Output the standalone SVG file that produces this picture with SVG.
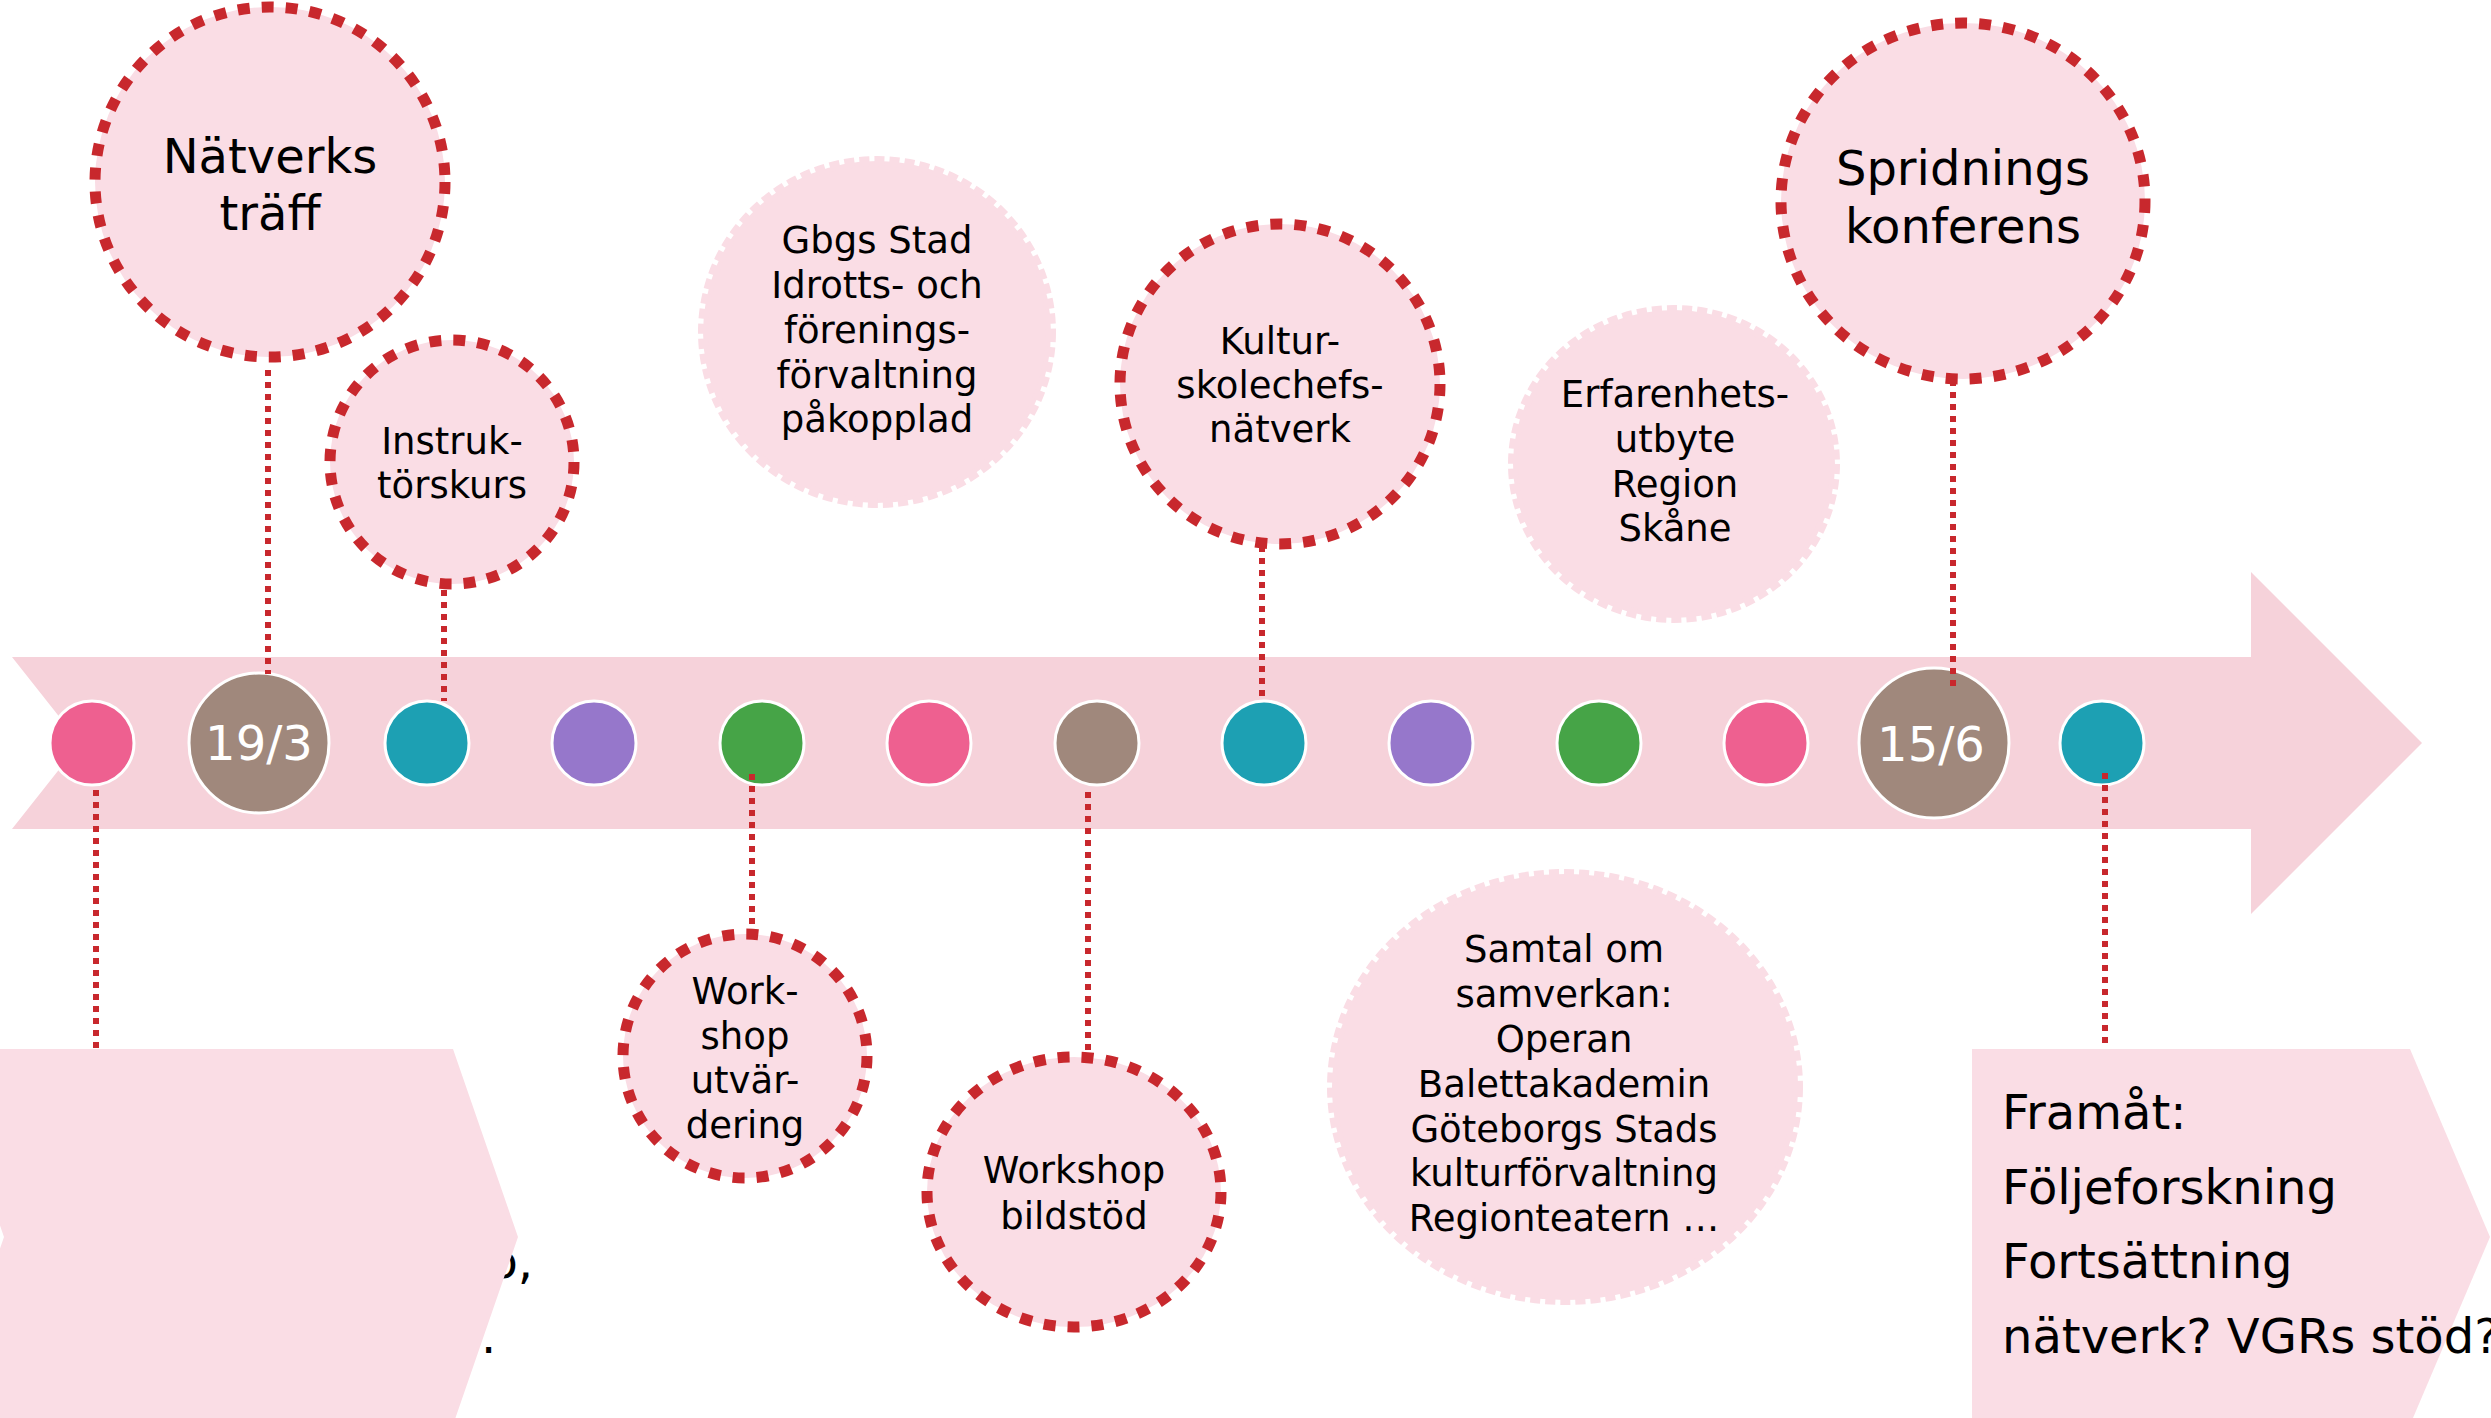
<svg xmlns="http://www.w3.org/2000/svg" width="2491" height="1418" viewBox="0 0 2491 1418">
<style>
  .t { font-family: "DejaVu Sans", Verdana, sans-serif; fill: #000; text-anchor: middle; }
  .t37 { font-size: 37px; }
  .t48 { font-size: 48px; }
  .date { font-family: "DejaVu Sans", Verdana, sans-serif; font-size: 48px; fill: #fff; text-anchor: middle; }
  .red { fill: #FADDE5; stroke: #C8282D; stroke-width: 11; stroke-dasharray: 12 12; }
  .soft { fill: #FADDE5; stroke: #FADDE5; stroke-width: 10; stroke-dasharray: 10 5; }
  .dot { stroke: #fff; stroke-width: 3; }
  .conn { stroke: #C8282D; stroke-width: 6; stroke-dasharray: 6 6; fill: none; }
  .box { fill: #FADDE5; }
  .bt { font-family: "DejaVu Sans", Verdana, sans-serif; font-size: 48px; fill: #000; }
</style>
<rect x="0" y="0" width="2491" height="1418" fill="#fff"/>

<g id="timeline-arrow">
  <polygon points="12,657 2251,657 2251,572 2422,743 2251,914 2251,829 12,829 80,743" fill="#F6D2DA"/>
</g>

<g id="box-left">
  <text class="bt" x="533" y="1278" text-anchor="end">o,</text>
  <text class="bt" x="481" y="1353">.</text>
  <polygon class="box" points="-61,1049 453,1049 518,1237 453,1425 -61,1425 4,1237"/>
</g>

<g id="box-right">
  <polygon class="box" points="1972,1049 2410,1049 2490,1237 2410,1425 1972,1425"/>
  <text class="bt" x="2002" y="1129">Framåt:</text>
  <text class="bt" x="2002" y="1204">Följeforskning</text>
  <text class="bt" x="2002" y="1278">Fortsättning</text>
  <text class="bt" x="2002" y="1353">nätverk? VGRs stöd?</text>
</g>

<g id="markers">
  <circle class="dot" cx="92" cy="743" r="42" fill="#EE6090"/>
  <g id="date-19-3">
    <circle class="dot" cx="259" cy="743" r="70" fill="#A0887C"/>
    <text class="date" x="259" y="760">19/3</text>
  </g>
  <circle class="dot" cx="427" cy="743" r="42" fill="#1DA0B3"/>
  <circle class="dot" cx="594" cy="743" r="42" fill="#9677CB"/>
  <circle class="dot" cx="762" cy="743" r="42" fill="#46A447"/>
  <circle class="dot" cx="929" cy="743" r="42" fill="#EE6090"/>
  <circle class="dot" cx="1097" cy="743" r="42" fill="#A0887C"/>
  <circle class="dot" cx="1264" cy="743" r="42" fill="#1DA0B3"/>
  <circle class="dot" cx="1431" cy="743" r="42" fill="#9677CB"/>
  <circle class="dot" cx="1599" cy="743" r="42" fill="#46A447"/>
  <circle class="dot" cx="1766" cy="743" r="42" fill="#EE6090"/>
  <g id="date-15-6">
    <circle class="dot" cx="1934" cy="743" r="75" fill="#A0887C"/>
    <text class="date" x="1931" y="761">15/6</text>
  </g>
  <circle class="dot" cx="2102" cy="743" r="42" fill="#1DA0B3"/>
</g>

<g id="connectors">
  <line class="conn" x1="268" y1="370" x2="268" y2="674"/>
  <line class="conn" x1="444" y1="590" x2="444" y2="701"/>
  <line class="conn" x1="1262" y1="546" x2="1262" y2="697"/>
  <line class="conn" x1="1953" y1="380" x2="1953" y2="690"/>
  <line class="conn" x1="96" y1="790" x2="96" y2="1049"/>
  <line class="conn" x1="752" y1="774" x2="752" y2="930"/>
  <line class="conn" x1="1088" y1="792" x2="1088" y2="1052"/>
  <line class="conn" x1="2105" y1="773" x2="2105" y2="1049"/>
</g>

<g id="node-natverkstraff">
  <circle class="red" cx="270" cy="182" r="175"/>
  <text class="t t48" x="270" y="173">Nätverks</text>
  <text class="t t48" x="270" y="230">träff</text>
</g>

<g id="node-instruktorskurs">
  <circle class="red" cx="452" cy="462" r="122"/>
  <text class="t t37" x="452" y="454">Instruk-</text>
  <text class="t t37" x="452" y="498">törskurs</text>
</g>

<g id="node-gbgs">
  <ellipse class="soft" cx="877" cy="332" rx="174" ry="171"/>
  <text class="t t37" x="877" y="253">Gbgs Stad</text>
  <text class="t t37" x="877" y="298">Idrotts- och</text>
  <text class="t t37" x="877" y="343">förenings-</text>
  <text class="t t37" x="877" y="388">förvaltning</text>
  <text class="t t37" x="877" y="432">påkopplad</text>
</g>

<g id="node-kulturskolechefs">
  <circle class="red" cx="1280" cy="384" r="160"/>
  <text class="t t37" x="1280" y="354">Kultur-</text>
  <text class="t t37" x="1280" y="398">skolechefs-</text>
  <text class="t t37" x="1280" y="442">nätverk</text>
</g>

<g id="node-erfarenhetsutbyte">
  <ellipse class="soft" cx="1674" cy="464" rx="161" ry="154"/>
  <text class="t t37" x="1675" y="407">Erfarenhets-</text>
  <text class="t t37" x="1675" y="452">utbyte</text>
  <text class="t t37" x="1675" y="497">Region</text>
  <text class="t t37" x="1675" y="541">Skåne</text>
</g>

<g id="node-spridningskonferens">
  <ellipse class="red" cx="1963" cy="201" rx="182" ry="178"/>
  <text class="t t48" x="1963" y="185">Spridnings</text>
  <text class="t t48" x="1963" y="243">konferens</text>
</g>

<g id="node-workshop-utvardering">
  <circle class="red" cx="745" cy="1056" r="122"/>
  <text class="t t37" x="745" y="1004">Work-</text>
  <text class="t t37" x="745" y="1049">shop</text>
  <text class="t t37" x="745" y="1093">utvär-</text>
  <text class="t t37" x="745" y="1138">dering</text>
</g>

<g id="node-workshop-bildstod">
  <ellipse class="red" cx="1074" cy="1192" rx="147" ry="135"/>
  <text class="t t37" x="1074" y="1183">Workshop</text>
  <text class="t t37" x="1074" y="1229">bildstöd</text>
</g>

<g id="node-samtal">
  <ellipse class="soft" cx="1565" cy="1087" rx="233" ry="213"/>
  <text class="t t37" x="1564" y="962">Samtal om</text>
  <text class="t t37" x="1564" y="1007">samverkan:</text>
  <text class="t t37" x="1564" y="1052">Operan</text>
  <text class="t t37" x="1564" y="1097">Balettakademin</text>
  <text class="t t37" x="1564" y="1142">Göteborgs Stads</text>
  <text class="t t37" x="1564" y="1186">kulturförvaltning</text>
  <text class="t t37" x="1564" y="1231">Regionteatern …</text>
</g>
</svg>
